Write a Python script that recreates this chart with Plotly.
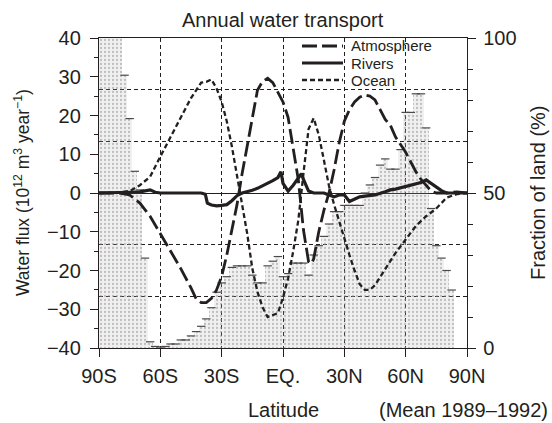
import plotly.graph_objects as go

# ---- data ----
lat_bins = [-90 + 2.5 * i for i in range(73)]
land_fraction = [100, 100, 100, 100, 100, 88, 74, 57, 51, 29,
                 2, 0.5, 0.3, 0.5, 1.3, 1.3, 2.6, 2.6, 3.9, 5.3,
                 7, 9.4, 13, 18, 21, 23, 26, 26.5, 26.5, 26.5,
                 23.5, 21, 21, 26.5, 28, 29.5, 23, 24, 27.4, 27.4,
                 27.4, 23.5, 30, 33, 36, 40, 44, 44, 46, 46,
                 46, 46, 50, 52.6, 55, 59, 61, 57.7, 57.7, 64,
                 76, 76, 82, 82, 71, 45, 33, 29, 25, 18.7,
                 0, 0, 0]

lat_atm = [-90, -85, -80, -75, -70, -65, -60, -55, -50, -45,
           -42.5, -40, -37.5, -35, -32.5, -30, -27.5, -25, -22.5, -20,
           -17.5, -15, -12.5, -10, -7.5, -5, -2.5, 0, 2.5, 5,
           7.5, 10, 12.5, 14, 15, 17.5, 20, 22.5, 25, 27.5,
           30, 32.5, 35, 37.5, 40, 42.5, 45, 47.5, 50, 52.5,
           55, 57.5, 60, 62.5, 65, 67.5, 70, 72.5, 75, 80,
           85, 90]
atmosphere = [0, 0, 0, -0.5, -2.6, -6, -10.4, -15, -19.5, -24.5,
              -27.3, -28.3, -28.3, -27.2, -25, -21.5, -16, -9.5, -3, 5,
              12.5, 20, 26.5, 28.8, 29.6, 28.5, 26, 23.5, 19.5, 12,
              3.4, -9.5, -17.7, -18.2, -17, -10, -4.5, 0, 6, 13,
              18.5, 21.5, 23.5, 24.7, 25.3, 25, 24, 21.5, 19, 17.5,
              14.5, 12.5, 10.5, 8, 5.5, 3.5, 2, 0.5, 0, 0,
              0.3, 0]

lat_riv = [-90, -80, -75, -70, -67.5, -65, -62.5, -60, -50, -40,
           -38, -37, -35, -32.5, -30, -27.5, -25, -22.5, -20, -17.5,
           -15, -12.5, -10, -7.5, -5, -2.5, -1, 0, 2.5, 5,
           7.5, 9, 10, 12.5, 15, 17.5, 20, 22.5, 25, 27.5,
           30, 32.5, 35, 37.5, 40, 45, 50, 52.5, 55, 60,
           65, 67.5, 70, 72.5, 75, 77.5, 80, 85, 90]
rivers = [0, 0, 0.2, 0.3, 0.5, 0.8, 0.2, 0, 0, 0,
          -0.3, -2.6, -3.1, -3.3, -3.2, -3, -2, -0.7, 0, 0.3,
          0.7, 1.2, 1.8, 2.6, 3.2, 4, 5.5, 2.5, 0.5, 2,
          3.8, 5, 3.5, 0.5, 0, 0, 0, -0.5, -1, -0.5,
          -0.5, -2.2, -1.5, -1, -0.8, -0.5, 0.3, 0.8, 1, 1.6,
          2.2, 2.7, 3.4, 2.5, 1.5, 0.6, 0, 0, 0]

lat_oce = [-90, -85, -80, -75, -70, -65, -60, -55, -50, -45,
           -40, -37.5, -35, -32.5, -30, -27.5, -25, -22.5, -20, -17.5,
           -15, -12.5, -10, -7.5, -5, -2.5, 0, 2.5, 5, 7.5,
           10, 12.5, 15, 17.5, 20, 22.5, 25, 27.5, 30, 32.5,
           35, 37.5, 40, 42.5, 45, 50, 55, 60, 65, 70,
           75, 80, 85, 90]
ocean = [0, 0, 0.2, 0.5, 2, 4.2, 9.4, 14.5, 19.5, 24.5,
         28.5, 28.7, 29.3, 27, 23.5, 18.5, 12, 4, -3, -10.5,
         -19.5, -25.5, -29.5, -32, -31.5, -31, -27, -22, -15, -7,
         5, 16.5, 19.3, 15, 8.5, 1.8, -3, -7.5, -11.5, -16,
         -20, -23.5, -25, -25, -23.8, -19.5, -15.5, -12, -8.5, -6,
         -4, -1.2, -0.3, 0]

x_tickvals = [-90, -60, -30, 0, 30, 60, 90]
x_ticktext = ["90S", "60S", "30S", "EQ.", "30N", "60N", "90N"]

INK = "#231f20"
FONT = "Liberation Sans, Arial, Helvetica, sans-serif"
ATM_STYLE = dict(color=INK, width=2.8, dash="15px,5px")
RIV_STYLE = dict(color=INK, width=3.2, dash="solid")
OCE_STYLE = dict(color=INK, width=2.3, dash="5px,3px")
GRID_DASH = "4px,3px"

fig = go.Figure()

# land fraction bars (right axis)
fig.add_trace(go.Bar(
    x=lat_bins, y=land_fraction, width=2.5, yaxis="y",
    marker=dict(color="rgba(0,0,0,0)", line=dict(width=0),
                pattern=dict(shape=".", fgcolor="#8c8c8c",
                             bgcolor="rgba(170,170,170,0.18)",
                             size=4, solidity=0.25, fillmode="overlay")),
    hoverinfo="skip", showlegend=False))
cap_x = [x for x, v in zip(lat_bins, land_fraction) if 0 < v < 100]
cap_y = [v for v in land_fraction if 0 < v < 100]
fig.add_trace(go.Scatter(
    x=cap_x, y=cap_y, mode="markers", yaxis="y",
    marker=dict(symbol="line-ew", size=6, line=dict(width=1.2, color="#4a4a4a")),
    hoverinfo="skip", showlegend=False))

# grid helper axis
fig.add_trace(go.Scatter(x=[-90], y=[0], yaxis="y3", mode="none",
                         hoverinfo="skip", showlegend=False))

# water transport lines (left axis)
fig.add_trace(go.Scatter(x=lat_atm, y=atmosphere, mode="lines", yaxis="y2",
                         line=ATM_STYLE, name="Atmosphere", showlegend=False))
fig.add_trace(go.Scatter(x=lat_riv, y=rivers, mode="lines", yaxis="y2",
                         line=RIV_STYLE, name="Rivers", showlegend=False))
fig.add_trace(go.Scatter(x=lat_oce, y=ocean, mode="lines", yaxis="y2",
                         line=OCE_STYLE, name="Ocean", showlegend=False))

fig.update_layout(
    width=552, height=423,
    margin=dict(l=99, r=85, t=38, b=75),
    paper_bgcolor="white", plot_bgcolor="white",
    font=dict(family=FONT, size=20, color=INK),
    bargap=0, showlegend=False,
    xaxis=dict(range=[-90, 90], tickvals=x_tickvals, ticktext=x_ticktext,
               ticks="outside", ticklen=8, tickcolor=INK, tickwidth=1.2,
               showline=True, linecolor=INK, linewidth=1.3, mirror=True,
               showgrid=True, gridcolor=INK, griddash=GRID_DASH, gridwidth=1,
               zeroline=False, ticklabelstandoff=2),
    yaxis=dict(range=[0, 100], side="right", tickvals=[0, 50, 100],
               ticks="outside", ticklen=8, tickcolor=INK, tickwidth=1.2,
               minor=dict(dtick=10, ticks="outside", ticklen=5, tickcolor=INK),
               showline=True, linecolor=INK, linewidth=1.3,
               showgrid=False, zeroline=False, ticklabelstandoff=3),
    yaxis2=dict(range=[-40, 40], overlaying="y", side="left", anchor="x",
                tickvals=[-40, -30, -20, -10, 0, 10, 20, 30, 40],
                ticks="outside", ticklen=8, tickcolor=INK, tickwidth=1.2,
                minor=dict(dtick=5, ticks="outside", ticklen=4, tickcolor=INK),
                showline=True, linecolor=INK, linewidth=1.3,
                showgrid=False, zeroline=True, zerolinecolor=INK, zerolinewidth=1.2,
                ticklabelstandoff=5),
    yaxis3=dict(range=[0, 100], overlaying="y", anchor="x",
                tickvals=[100 / 6, 200 / 6, 400 / 6, 500 / 6],
                showticklabels=False, ticks="", showline=False,
                showgrid=True, gridcolor=INK, griddash=GRID_DASH, gridwidth=1,
                zeroline=False),
)

def px_to_paper_x(px):
    return (px - 99) / 368.0

def px_to_paper_y(py):
    return (348 - py) / 310.0

annotations = [
    dict(text="Annual water transport", x=0.5, y=px_to_paper_y(20), xref="paper", yref="paper",
         showarrow=False, xanchor="center", yanchor="middle", font=dict(size=20)),
    dict(text="Latitude", x=0.5, y=px_to_paper_y(410), xref="paper", yref="paper",
         showarrow=False, xanchor="center", yanchor="middle", font=dict(size=20)),
    dict(text="(Mean 1989\u20131992)", x=px_to_paper_x(550), y=px_to_paper_y(410),
         xref="paper", yref="paper", showarrow=False, xanchor="right", yanchor="middle",
         font=dict(size=20)),
    dict(text="Water flux (10<sup>12</sup> m<sup>3</sup> year<sup>\u22121</sup>)",
         x=px_to_paper_x(22), y=0.5, xref="paper", yref="paper", textangle=-90,
         showarrow=False, xanchor="center", yanchor="middle", font=dict(size=17.5)),
    dict(text="Fraction of land (%)", x=px_to_paper_x(538), y=0.5, xref="paper", yref="paper",
         textangle=-90, showarrow=False, xanchor="center", yanchor="middle", font=dict(size=20)),
]

legend_items = [("Atmosphere", 46, ATM_STYLE),
                ("Rivers", 63, RIV_STYLE),
                ("Ocean", 80, OCE_STYLE)]
shapes = []
for name, py, style in legend_items:
    shapes.append(dict(type="line", xref="paper", yref="paper",
                       x0=px_to_paper_x(302), x1=px_to_paper_x(343),
                       y0=px_to_paper_y(py), y1=px_to_paper_y(py),
                       line=style))
    annotations.append(dict(text=name, x=px_to_paper_x(349), y=px_to_paper_y(py),
                            xref="paper", yref="paper", showarrow=False,
                            xanchor="left", yanchor="middle",
                            font=dict(size=15)))

fig.update_layout(annotations=annotations, shapes=shapes)

fig.write_html("out.html")
